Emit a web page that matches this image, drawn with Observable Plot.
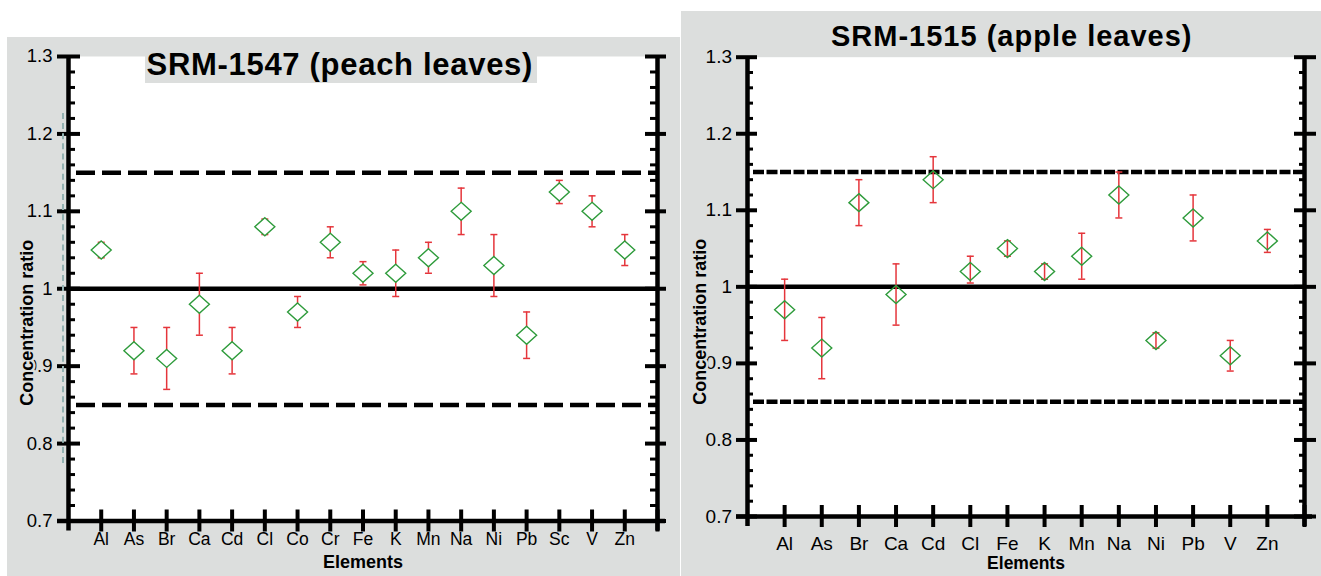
<!DOCTYPE html>
<html><head><meta charset="utf-8">
<script src="https://cdn.jsdelivr.net/npm/d3@7"></script>
<script src="https://cdn.jsdelivr.net/npm/@observablehq/plot@0.6"></script>
<style>
body{margin:0;background:#fff;}
#root{position:relative;width:1321px;height:576px;overflow:hidden;font-family:"Liberation Sans",Arial,sans-serif;}
.panel{position:absolute;background:#dcdedd;}
.panel svg{position:absolute;left:0;top:0;}
.title{position:absolute;font-weight:bold;white-space:nowrap;line-height:1;color:#000;}
</style></head><body><div id="root">
<div class="panel" id="p1" style="left:7px;top:37px;width:673px;height:539px"></div>
<div class="panel" id="p2" style="left:681px;top:11px;width:640px;height:565px"></div>
<div style="position:absolute;left:62px;top:113px;width:0;height:350px;border-left:2px dashed #93b2b2"></div>
<div style="position:absolute;left:145px;top:56px;width:392px;height:27px;background:#dcdedd"></div>
<div class="title" style="left:146.5px;top:48.8px;font-size:31px;letter-spacing:0.7px">SRM-1547 (peach leaves)</div>
<div class="title" style="left:831px;top:22.2px;font-size:29px;letter-spacing:1px">SRM-1515 (apple leaves)</div>
</div>
<script>
// ---- data: SRM-1547 (peach leaves)
const leftElements = ["Al","As","Br","Ca","Cd","Cl","Co","Cr","Fe","K","Mn","Na","Ni","Pb","Sc","V","Zn"];
const leftValues   = [1.05,0.92,0.91,0.98,0.92,1.08,0.97,1.06,1.02,1.02,1.04,1.10,1.03,0.94,1.125,1.10,1.05];
const leftLow      = [1.04,0.89,0.87,0.94,0.89,1.07,0.95,1.04,1.005,0.99,1.02,1.07,0.99,0.91,1.11,1.08,1.03];
const leftHigh     = [1.06,0.95,0.95,1.02,0.95,1.09,0.99,1.08,1.035,1.05,1.06,1.13,1.07,0.97,1.14,1.12,1.07];
// ---- data: SRM-1515 (apple leaves)
const rightElements = ["Al","As","Br","Ca","Cd","Cl","Fe","K","Mn","Na","Ni","Pb","V","Zn"];
const rightValues   = [0.97,0.92,1.11,0.99,1.14,1.02,1.05,1.02,1.04,1.12,0.93,1.09,0.91,1.06];
const rightLow      = [0.93,0.88,1.08,0.95,1.11,1.005,1.04,1.01,1.01,1.09,0.92,1.06,0.89,1.045];
const rightHigh     = [1.01,0.96,1.14,1.03,1.17,1.04,1.06,1.03,1.07,1.15,0.94,1.12,0.93,1.075];
// ---- axis ticks and reference lines
const yMajorTicks = [0.7, 0.8, 0.9, 1, 1.1, 1.2, 1.3];
const yMinorTicks = [0.72,0.74,0.76,0.78,0.82,0.84,0.86,0.88,0.92,0.94,0.96,0.98,1.02,1.04,1.06,1.08,1.12,1.14,1.16,1.18,1.22,1.24,1.26,1.28];
const refSolid = [1];
const refDashed = [0.85, 1.15];
const yLabel = "Concentration ratio";
const xLabel = "Elements";

const GREY = "#dcdedd", RED = "#e5353b", GREEN = "#2e9b3b";

const capSymbol = {draw(ctx, size){ const w = Math.sqrt(size/Math.PI); ctx.moveTo(-w,0); ctx.lineTo(w,0); }};
const diamondSymbol = {draw(ctx, size){ const r = Math.sqrt(size/Math.PI), h = r*0.9;
  ctx.moveTo(0,-h); ctx.lineTo(r,0); ctx.lineTo(0,h); ctx.lineTo(-r,0); ctx.closePath(); }};

function makeTable(els, v, lo, hi){ return els.map((e,i)=>({pos:i+1, el:e, v:v[i], lo:lo[i], hi:hi[i]})); }

function panel(c){
  const data = makeTable(c.els, c.v, c.lo, c.hi);
  const n = data.length + 1;
  const xTicks = data.map(d=>d.pos).concat([n]);
  return Plot.plot({
    width: c.width, height: c.height,
    marginLeft: c.mL, marginRight: c.mR, marginTop: c.mT, marginBottom: c.mB,
    x: {domain: [0, n], axis: null, label: null},
    y: {domain: [0.7, 1.3], axis: null, label: null},
    style: {background: "transparent", fontFamily: "'Liberation Sans', Arial, sans-serif", color: "black"},
    marks: [
      Plot.frame({fill: "white", stroke: "none"}),
      Plot.ruleY(refDashed, {y: d=>d, x1: 0, x2: n, stroke: "black", strokeWidth: c.dashW, strokeDasharray: c.dash, insetLeft: c.dashInset}),
      Plot.ruleY(refSolid, {y: d=>d, x1: 0, x2: n, stroke: "black", strokeWidth: 4.5}),
      Plot.ruleX(data, {x: "pos", y1: "lo", y2: "hi", stroke: RED, strokeWidth: 1.5}),
      Plot.dot(data, {x: "pos", y: "hi", symbol: capSymbol, r: 3.5, stroke: RED, fill: "none", strokeWidth: 1.5}),
      Plot.dot(data, {x: "pos", y: "lo", symbol: capSymbol, r: 3.5, stroke: RED, fill: "none", strokeWidth: 1.5}),
      Plot.dot(data, {x: "pos", y: "v", symbol: diamondSymbol, r: 10, stroke: GREEN, fill: c.diamondFill, strokeWidth: 1.4}),
      // axis lines
      Plot.ruleX([0, n], {x: d=>d, y1: 1.3, y2: 0.7, stroke: "black", strokeWidth: 4.5, insetBottom: -10}),
      Plot.ruleY([0.7], {y: d=>d, x1: 0, x2: n, stroke: "black", strokeWidth: 4.5, insetLeft: -11, insetRight: -8}),
      // y ticks
      Plot.axisY({ticks: yMajorTicks, anchor: "left", tickSize: c.majL[0], dx: c.majL[1], strokeWidth: 4, fill: "none", label: null}),
      Plot.axisY({ticks: yMinorTicks, anchor: "left", tickSize: c.minL[0], dx: c.minL[1], strokeWidth: 3, fill: "none", label: null}),
      Plot.axisY({ticks: yMajorTicks, anchor: "right", tickSize: c.majR[0], dx: c.majR[1], strokeWidth: 4, fill: "none", label: null}),
      Plot.axisY({ticks: yMinorTicks, anchor: "right", tickSize: c.minR[0], dx: c.minR[1], strokeWidth: 3, fill: "none", label: null}),
      Plot.text(yMajorTicks, {y: d=>d, text: d=>String(d), frameAnchor: "left", dx: -c.yPad, textAnchor: "end", lineAnchor: "middle", fontSize: c.yFont, fill: "black"}),
      // x ticks
      Plot.axisX({ticks: xTicks, anchor: "bottom", tickSize: 22, dy: -11, strokeWidth: 4, fill: "none", label: null}),
      Plot.text(data, {x: "pos", text: "el", frameAnchor: "bottom", dy: c.xPad, lineAnchor: "top", fontSize: c.xFont, fill: "black"}),
      // axis titles
      Plot.text([xLabel], {text: d=>d, frameAnchor: "bottom", dy: c.elDy, lineAnchor: "middle", fontWeight: "bold", fontSize: c.elFont}),
      Plot.text([yLabel], {text: d=>d, frameAnchor: "left", rotate: -90, dx: c.ylDx, dy: c.ylDy, lineAnchor: "middle", textAnchor: "middle",
        fontWeight: "bold", fontSize: 18, fill: "black", stroke: GREY, strokeWidth: 5})
    ]
  });
}

document.getElementById("p1").appendChild(panel({
  els: leftElements, v: leftValues, lo: leftLow, hi: leftHigh,
  width: 673, height: 539, mL: 61, mR: 23, mT: 19, mB: 55.5,
  majL: [23, 12], minL: [7, 7], majR: [21, -13], minR: [8, -8],
  yPad: 16, yFont: 18.5, xPad: 12, xFont: 17.5,
  dash: "19,7", dashW: 4.5, dashInset: 8, diamondFill: "white",
  elDy: 41, elFont: 18, ylDx: -41.5, ylDy: 34
}));
document.getElementById("p2").appendChild(panel({
  els: rightElements, v: rightValues, lo: rightLow, hi: rightHigh,
  width: 640, height: 565, mL: 66, mR: 17, mT: 45.7, mB: 60,
  majL: [21, 10], minL: [6, 6], majR: [22, -11], minR: [6, -6],
  yPad: 15.5, yFont: 19, xPad: 20, xFont: 19,
  dash: "11,2.5", dashW: 4.5, dashInset: 6, diamondFill: "none",
  elDy: 47, elFont: 17.5, ylDx: -47, ylDy: 35
}));
</script>
</body></html>
